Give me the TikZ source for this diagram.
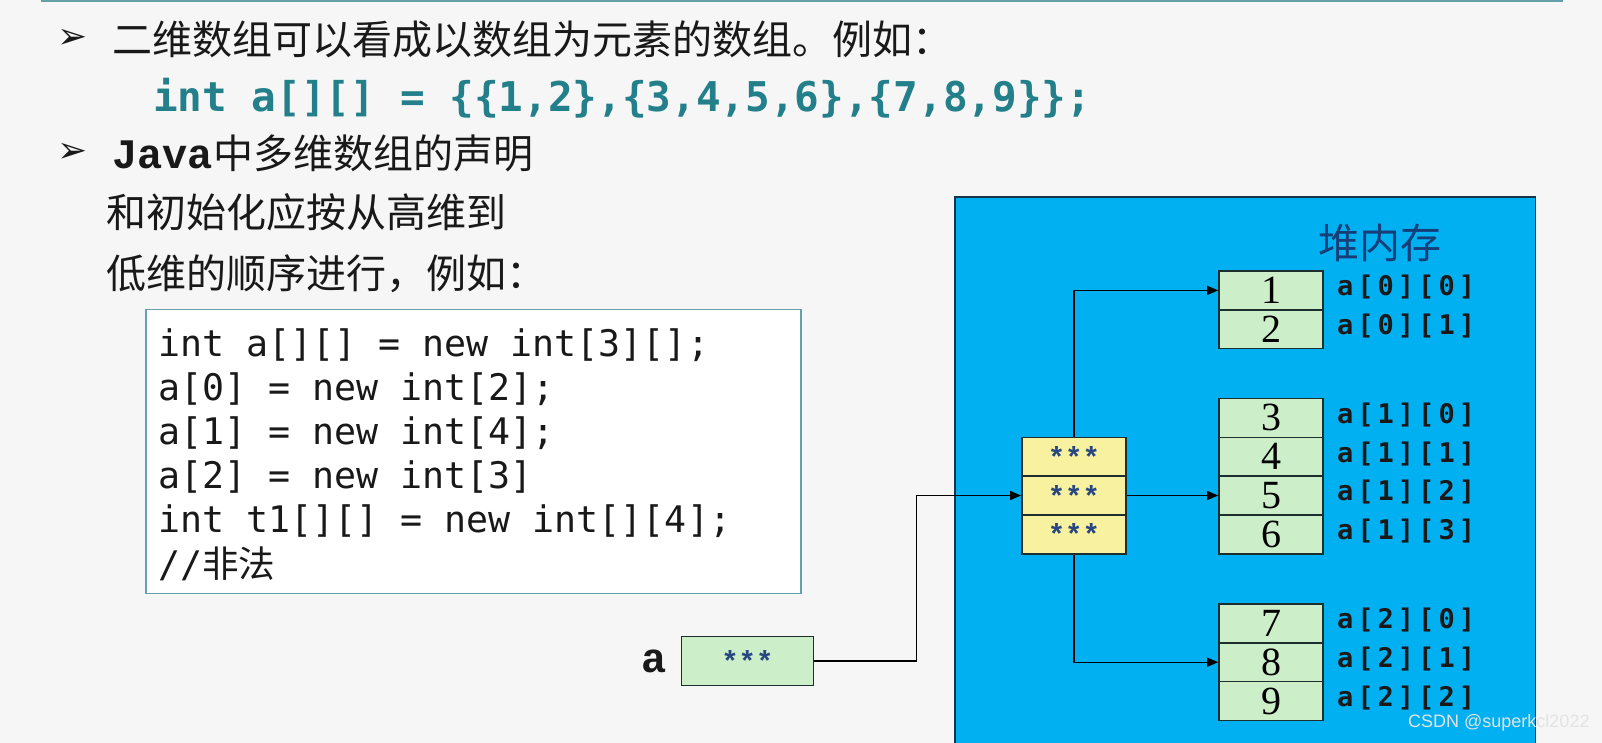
\documentclass[tikz,border=0pt]{standalone}
\usepackage{fontspec}
\usepackage{xcolor}
\usepackage{tikz}
\usetikzlibrary{arrows.meta,positioning}
\newfontfamily\cjk{Noto Sans CJK SC}
\newfontfamily\codefont{DejaVu Sans Mono}
\newfontfamily\labelfont[LetterSpace=15]{DejaVu Sans Mono}
\newfontfamily\slabfont{Liberation Mono}
\newfontfamily\numfont{Liberation Serif}
\newfontfamily\dingfont{DejaVu Sans}
\newfontfamily\markfont{Liberation Sans}
\definecolor{heapBlue}{RGB}{0,176,240}
\definecolor{heapEdge}{RGB}{24,52,74}
\definecolor{cellGreen}{RGB}{204,238,200}
\definecolor{cellYellow}{RGB}{248,242,160}
\definecolor{cellEdge}{RGB}{28,46,46}
\definecolor{codeTeal}{RGB}{35,128,138}
\definecolor{frameTeal}{RGB}{100,160,170}
\definecolor{starBlue}{RGB}{40,70,130}
\definecolor{heapText}{RGB}{22,62,120}
\definecolor{pageGray}{RGB}{246,246,246}
\definecolor{inkDark}{RGB}{25,25,25}

\begin{document}
\begin{tikzpicture}[x=1pt,y=-1pt,
    cjkline/.style={anchor=west, inner sep=0, text=inkDark, font=\cjk\fontsize{40}{44}\selectfont},
    bulletmark/.style={inner sep=0, text=inkDark, font=\dingfont\bfseries\fontsize{36}{38}\selectfont},
    valcell/.style={draw=cellEdge, fill=cellGreen, line width=1.6pt, inner sep=0,
        minimum width=104pt, minimum height=38.8pt, font=\numfont\fontsize{40}{42}\selectfont},
    ptrcell/.style={valcell, fill=cellYellow, text=starBlue, font=\slabfont\bfseries\fontsize{29}{30}\selectfont},
    idxlabel/.style={inner sep=0, text=inkDark, font=\labelfont\bfseries\fontsize{27}{30}\selectfont},
    link/.style={draw=black, line width=1.3pt, -{Triangle[length=11pt,width=9pt]}}]

    % page
    \useasboundingbox (0,0) rectangle (1602,743);
    \clip (0,0) rectangle (1602,743);
    \fill[pageGray] (0,0) rectangle (1602,743);
    \draw[frameTeal, line width=2pt] (41,1.5) -- (1563,1.5);

    % bullet text
    \node[bulletmark] (bul1) at (73,39) {➢};
    \node[cjkline] (line1) at (112,39) {二维数组可以看成以数组为元素的数组。例如：};
    \node[anchor=west, inner sep=0, text=codeTeal, font=\codefont\bfseries\fontsize{41}{44}\selectfont]
        (init) at (153,98) {int a[][] = \{\{1,2\},\{3,4,5,6\},\{7,8,9\}\};};
    \node[bulletmark] (bul2) at (73,153) {➢};
    \node[cjkline] (line2) at (112,153) {{\slabfont\bfseries\fontsize{42}{44}\selectfont Java}中多维数组的声明};
    \node[cjkline] (line3) at (106,212.5) {和初始化应按从高维到};
    \node[cjkline] (line4) at (106,274) {低维的顺序进行，例如：};

    % code box
    \node[draw=frameTeal, fill=white, line width=1.5pt, inner sep=0, anchor=north west,
        minimum width=655pt, minimum height=284pt] (codebox) at (145,308.5) {};
    \node[anchor=base west, align=left, inner sep=0, text=inkDark,
        font=\codefont\fontsize{36.6}{44.2}\selectfont] (code) at (158,577)
        {int a[][] = new int[3][];\\
         a[0] = new int[2];\\
         a[1] = new int[4];\\
         a[2] = new int[3]\\
         int t1[][] = new int[][4];\\
         //{\cjk 非法}};

    % reference variable
    \node[inner sep=0, text=inkDark, font=\slabfont\bfseries\fontsize{42}{44}\selectfont] (alabel) at (654,661) {a};
    \node[ptrcell, fill=cellGreen, minimum width=132pt, minimum height=49pt] (aref) at (747.4,661) {***};

    % heap
    \draw[heapEdge, fill=heapBlue, line width=1.5pt] (955,197) rectangle (1535.5,760);
    \node[anchor=west, inner sep=0, text=heapText, font=\cjk\fontsize{41}{43}\selectfont] (heaptitle) at (1318,243) {堆内存};

    % row pointers
    \foreach \i/\y in {0/456.7,1/495.5,2/534.3}
        \node[ptrcell] (p\i) at (1073.9,\y) {***};

    % element arrays
    \foreach \r/\c/\v/\y in {0/0/1/290.4,0/1/2/329.2,
                             1/0/3/417.9,1/1/4/456.7,1/2/5/495.5,1/3/6/534.3,
                             2/0/7/623.4,2/1/8/662.2,2/2/9/701}{
        \node[valcell] (c\r\c) at (1271,\y) {\v};
        \node[idxlabel, right=13pt of c\r\c, yshift=3pt] (l\r\c) {a[\r][\c]};
    }

    % connectors
    \coordinate (bend) at (916.5,495.5);
    \draw[link] (aref.east) -| (bend) -- (p1.west);
    \draw[link] (p0.north) |- (c00.west);
    \draw[link] (p1.east) -- (c12.west);
    \draw[link] (p2.south) |- (c21.west);

    % watermark
    \node[anchor=west, inner sep=0, text=white!78!gray, font=\markfont\fontsize{18}{20}\selectfont] (mark) at (1408,723) {CSDN @superkcl2022};

\end{tikzpicture}
\end{document}
